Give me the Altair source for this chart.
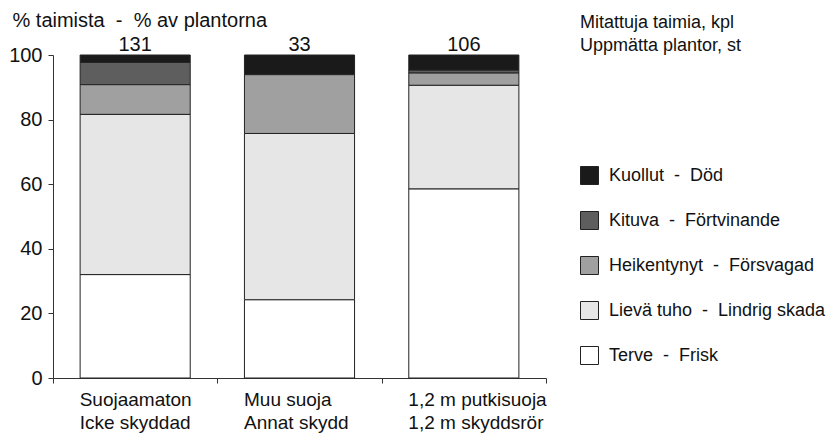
import altair as alt
import pandas as pd

groups = ["Suojaamaton|Icke skyddad", "Muu suoja|Annat skydd", "1,2 m putkisuoja|1,2 m skyddsrör"]
counts = [131, 33, 106]
classes = ["Kuollut\u00a0 -\u00a0 Död", "Kituva\u00a0 -\u00a0 Förtvinande", "Heikentynyt\u00a0 -\u00a0 Försvagad",
           "Lievä tuho\u00a0 -\u00a0 Lindrig skada", "Terve\u00a0 -\u00a0 Frisk"]
# percentages per group, in class order (Kuollut ... Terve)
kuollut = [2.3, 6.1, 4.7]
kituva = [6.9, 0.0, 0.9]
heikentynyt = [9.2, 18.2, 3.8]
lieva = [49.6, 51.5, 32.1]
terve = [32.0, 24.2, 58.5]
fills = ["#1a1a1a", "#5e5e5e", "#a0a0a0", "#e6e6e6", "#ffffff"]

series = [kuollut, kituva, heikentynyt, lieva, terve]
rows = []
for ci, (cls, vals) in enumerate(zip(classes, series)):
    for g, v in zip(groups, vals):
        rows.append({"group": g, "cls": cls, "pct": v, "order": 4 - ci})
df = pd.DataFrame(rows)
cdf = pd.DataFrame({"group": groups, "n": counts, "top": [100] * 3})

FONT = "Liberation Sans"
xenc = alt.X("group:N", sort=groups, title=None,
             scale=alt.Scale(paddingInner=0, paddingOuter=0),
             axis=alt.Axis(labelExpr="split(datum.label, '|')", labelAngle=0, labelFontSize=19,
                           labelLineHeight=23, labelColor="#111", labelFont=FONT,
                           labelAlign="left", labelOffset=-56, labelPadding=7,
                           tickBand="extent", tickSize=5, tickColor="#333", domainColor="#333"))

bars = alt.Chart(df).mark_bar(width=alt.RelativeBandSize(0.67), stroke="#222", strokeWidth=1).encode(
    x=xenc,
    y=alt.Y("pct:Q", stack="zero",
            scale=alt.Scale(domain=[0, 100], nice=False),
            axis=alt.Axis(values=[0, 20, 40, 60, 80, 100], grid=False, tickSize=5, tickColor="#333",
                          domainColor="#333", labelFontSize=20, labelColor="#111", labelFont=FONT,
                          labelPadding=6,
                          title="% taimista\u00a0 -\u00a0 % av plantorna", titleAngle=0,
                          titleAlign="left", titleBaseline="alphabetic", titleX=-41, titleY=-29,
                          titleFontSize=20, titleFontWeight="normal", titleColor="#111", titleFont=FONT)),
    fill=alt.Fill("cls:N", sort=classes,
                  scale=alt.Scale(domain=classes, range=fills),
                  legend=alt.Legend(orient="none", legendX=527, legendY=-41,
                                    title=["Mitattuja taimia, kpl", "Uppmätta plantor, st"],
                                    titleFontSize=18, titleFontWeight="normal", titleColor="#111",
                                    titleFont=FONT, titleLineHeight=23, titlePadding=111,
                                    labelFontSize=18, labelColor="#111", labelFont=FONT, labelLimit=300,
                                    labelOffset=10,
                                    symbolType="square", symbolSize=324, symbolStrokeColor="#222",
                                    symbolStrokeWidth=1, symbolOpacity=1, rowPadding=22)),
    order=alt.Order("order:Q"),
)

labels = alt.Chart(cdf).mark_text(baseline="alphabetic", dy=-4, fontSize=20, font=FONT, color="#111").encode(
    x=alt.X("group:N", sort=groups),
    y=alt.Y("top:Q"),
    text=alt.Text("n:Q"),
)

chart = alt.layer(bars, labels).properties(
    width=493, height=323,
    autosize=alt.AutoSizeParams(type="none"),
    padding={"left": 45, "top": 47, "right": 282, "bottom": 55},
).configure_view(stroke=None).configure_axis(domainWidth=1, tickWidth=1)

chart.save("out.html", embed_options={"renderer": "svg", "actions": False})
